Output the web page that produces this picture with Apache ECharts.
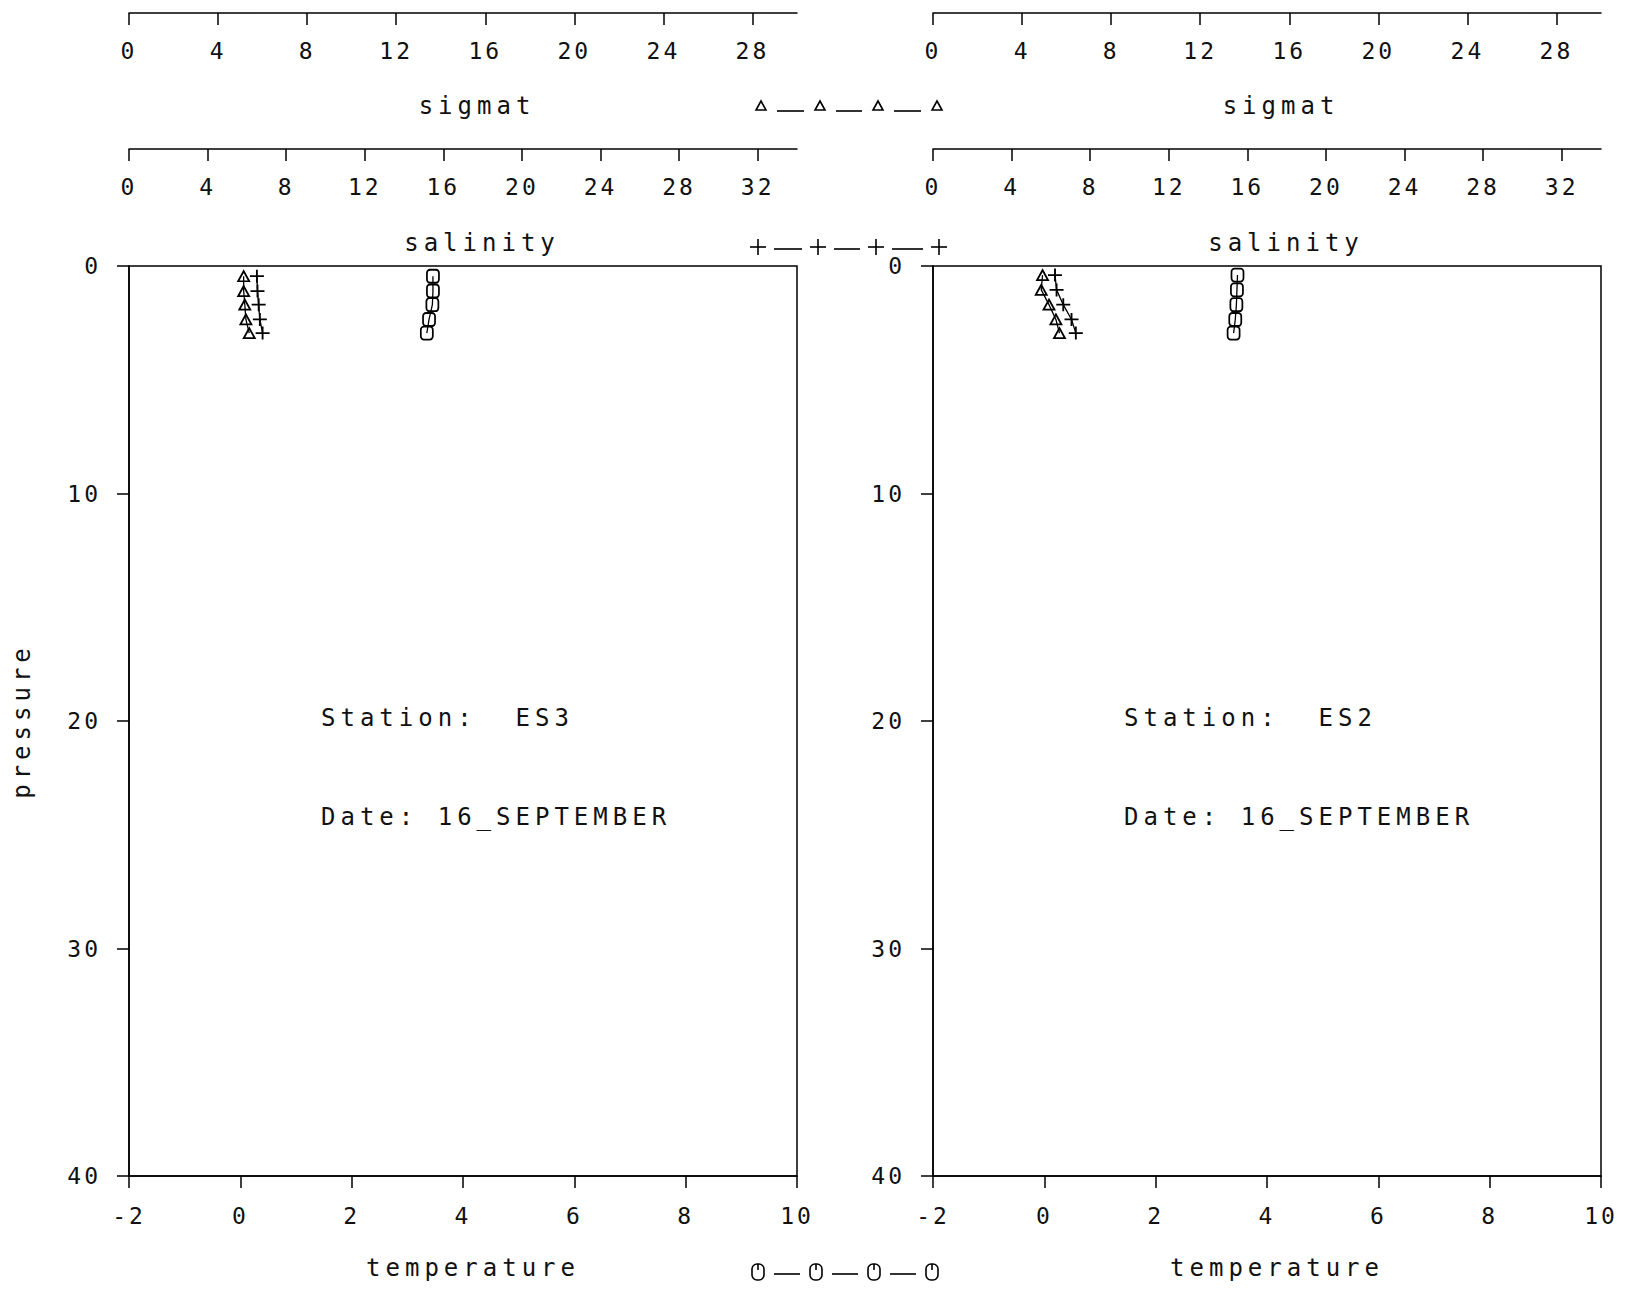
<!DOCTYPE html>
<html><head><meta charset="utf-8">
<script src="https://cdn.jsdelivr.net/npm/echarts@6/dist/echarts.min.js"></script>
<style>
html,body{margin:0;padding:0;background:#fff;}
#chart{width:1632px;height:1289px;}
#chart svg text{letter-spacing:5px;}
#chart svg text[style*="23px"]{letter-spacing:3px;}
</style></head><body><div id="chart"></div>
<script>
// ---------- data ----------
const stations = ['ES3', 'ES2'];
const dateText = '16_SEPTEMBER';
const pressureES3 = [0.45, 1.1, 1.7, 2.35, 2.95];
const temperatureES3 = [3.46, 3.46, 3.45, 3.39, 3.35];
const salinityES3 = [6.51, 6.54, 6.6, 6.66, 6.8];
const sigmatES3 = [5.15, 5.15, 5.2, 5.25, 5.4];
const pressureES2 = [0.4, 1.05, 1.7, 2.35, 2.95];
const temperatureES2 = [3.47, 3.46, 3.45, 3.43, 3.40];
const salinityES2 = [6.21, 6.29, 6.63, 7.05, 7.27];
const sigmatES2 = [4.92, 4.86, 5.21, 5.52, 5.68];
const temperatureTicks = [-2, 0, 2, 4, 6, 8, 10];
const salinityTicks = [0, 4, 8, 12, 16, 20, 24, 28, 32];
const sigmatTicks = [0, 4, 8, 12, 16, 20, 24, 28];
const pressureTicks = [0, 10, 20, 30, 40];

// ---------- styles ----------
const FONT = 'DejaVu Sans Mono';
const INK = '#111';
const txt = {fontFamily: FONT, fontSize: 24, color: INK};
const tickTxt = {fontFamily: FONT, fontSize: 23, color: INK};
const lineSty = {color: '#000', width: 1.5};

const grids = [
  {left: 129, top: 266, width: 668, height: 910, show: true, borderColor: '#000', borderWidth: 1.5, containLabel: false, outerBoundsMode: 'none'},
  {left: 933, top: 266, width: 668, height: 910, show: true, borderColor: '#000', borderWidth: 1.5, containLabel: false, outerBoundsMode: 'none'}
];

function shifted(dx) { return Object.assign({padding: [0, 0, 0, 2 * dx]}, txt); }

function bottomAxis(g) {
  return {gridIndex: g, type: 'value', position: 'bottom',
    min: temperatureTicks[0], max: temperatureTicks[temperatureTicks.length - 1], interval: 2,
    name: 'temperature', nameLocation: 'middle', nameGap: 80, nameTextStyle: shifted(10),
    axisLine: {show: true, onZero: false, lineStyle: lineSty},
    axisTick: {show: true, inside: false, length: 12, lineStyle: lineSty},
    axisLabel: Object.assign({margin: 28}, tickTxt), splitLine: {show: false}};
}
function topAxis(g, name, ticks, max, offset, gap, dx) {
  return {gridIndex: g, type: 'value', position: 'top', offset: offset,
    min: 0, max: max, interval: ticks[1] - ticks[0],
    name: name, nameLocation: 'middle', nameGap: gap, nameTextStyle: shifted(dx),
    axisLine: {show: true, onZero: false, lineStyle: lineSty},
    axisTick: {show: true, inside: true, length: 12, lineStyle: lineSty, customValues: ticks},
    axisLabel: Object.assign({inside: true, margin: 26, customValues: ticks}, tickTxt),
    splitLine: {show: false}};
}
function leftAxis(g, withName) {
  return {gridIndex: g, type: 'value', position: 'left', inverse: true,
    min: pressureTicks[0], max: pressureTicks[pressureTicks.length - 1], interval: 10,
    name: withName ? 'pressure' : '', nameLocation: 'middle', nameGap: 95, nameTextStyle: txt,
    axisLine: {show: true, onZero: false, lineStyle: lineSty},
    axisTick: {show: true, inside: false, length: 12, lineStyle: lineSty},
    axisLabel: Object.assign({margin: 28}, tickTxt), splitLine: {show: false}};
}

const xAxes = [
  bottomAxis(0), topAxis(0, 'salinity', salinityTicks, 34, 117, -106, 19), topAxis(0, 'sigmat', sigmatTicks, 30, 253, -105, 14),
  bottomAxis(1), topAxis(1, 'salinity', salinityTicks, 34, 117, -106, 19), topAxis(1, 'sigmat', sigmatTicks, 30, 253, -105, 14)
];
const yAxes = [leftAxis(0, true), leftAxis(1, false)];

const PLUS = 'path://M0,6 L12,6 M6,0 L6,12';
function pairs(vals, pres) { return vals.map((v, i) => [v, pres[i]]); }
function ser(name, vals, pres, xi, yi, symbol, size) {
  return {name: name, type: 'line', xAxisIndex: xi, yAxisIndex: yi,
    data: pairs(vals, pres), symbol: symbol, symbolSize: size, showAllSymbol: true,
    lineStyle: {color: '#000', width: 1.3},
    itemStyle: {color: 'rgba(0,0,0,0)', borderColor: '#000', borderWidth: 1.8},
    emphasis: {disabled: true}, animation: false, z: 3};
}
const series = [
  ser('temperature ES3', temperatureES3, pressureES3, 0, 0, 'roundRect', [12, 13]),
  ser('salinity ES3', salinityES3, pressureES3, 1, 0, PLUS, [14, 13]),
  ser('sigmat ES3', sigmatES3, pressureES3, 2, 0, 'triangle', [11, 10]),
  ser('temperature ES2', temperatureES2, pressureES2, 3, 1, 'roundRect', [12, 13]),
  ser('salinity ES2', salinityES2, pressureES2, 4, 1, PLUS, [14, 13]),
  ser('sigmat ES2', sigmatES2, pressureES2, 5, 1, 'triangle', [11, 10])
];

// ---------- legend samples between panels (layout only) ----------
const stroke = {stroke: '#000', lineWidth: 1.6, fill: 'none'};
function legendRow(kind, xs, y) {
  const els = [];
  xs.forEach((x, i) => {
    if (kind === 'tri') {
      els.push({type: 'polygon', shape: {points: [[x, y - 5], [x - 5, y + 4], [x + 5, y + 4]]}, style: stroke});
    } else if (kind === 'plus') {
      els.push({type: 'line', shape: {x1: x - 8, y1: y, x2: x + 8, y2: y}, style: stroke});
      els.push({type: 'line', shape: {x1: x, y1: y - 8, x2: x, y2: y + 8}, style: stroke});
    } else {
      els.push({type: 'rect', shape: {x: x - 6, y: y - 8, width: 12, height: 16, r: 5}, style: stroke});
      els.push({type: 'line', shape: {x1: x, y1: y - 8, x2: x, y2: y - 2}, style: stroke});
    }
    if (i < xs.length - 1) {
      const nx = xs[i + 1];
      const dy = kind === 'tri' ? y + 5 : y + 2;
      els.push({type: 'line', shape: {x1: x + 16, y1: dy, x2: nx - 16, y2: dy}, style: stroke});
    }
  });
  return els;
}
const graphics = [].concat(
  legendRow('tri', [761, 820, 878, 937], 106),
  legendRow('plus', [758, 818, 876, 939], 247),
  legendRow('circ', [758, 816, 874, 932], 1272),
  [
    {type: 'text', left: 321, top: 706, style: {text: 'Station:  ' + stations[0], font: '24px "' + FONT + '"', fill: INK}},
    {type: 'text', left: 321, top: 805, style: {text: 'Date: ' + dateText, font: '24px "' + FONT + '"', fill: INK}},
    {type: 'text', left: 1124, top: 706, style: {text: 'Station:  ' + stations[1], font: '24px "' + FONT + '"', fill: INK}},
    {type: 'text', left: 1124, top: 805, style: {text: 'Date: ' + dateText, font: '24px "' + FONT + '"', fill: INK}}
  ]
);

const chart = echarts.init(document.getElementById('chart'), null, {renderer: 'svg'});
chart.setOption({
  animation: false,
  backgroundColor: '#fff',
  textStyle: {fontFamily: FONT},
  grid: grids,
  xAxis: xAxes,
  yAxis: yAxes,
  series: series,
  graphic: graphics
});
</script></body></html>
